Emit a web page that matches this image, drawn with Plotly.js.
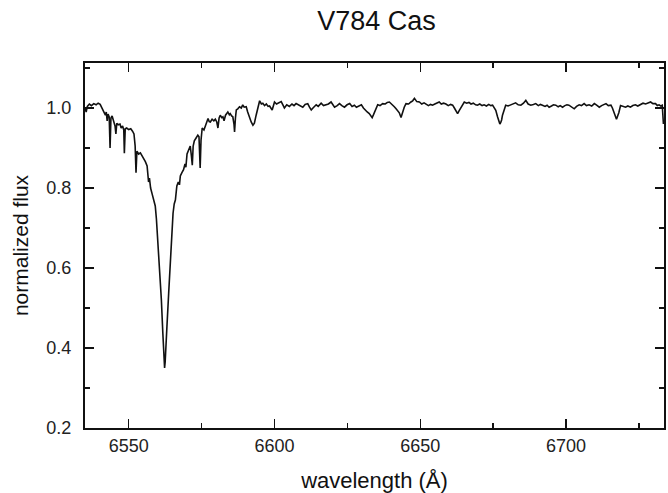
<!DOCTYPE html>
<html>
<head>
<meta charset="utf-8">
<script src="https://cdn.plot.ly/plotly-3.0.1.min.js"></script>
<style>html,body{margin:0;padding:0;background:#fff;}#chart{width:668px;height:493px;}</style>
</head>
<body>
<div id="chart"></div>
<script>
var wavelength = [
6535.0,6535.4,6535.8,6536.5,6537.2,6538.0,6538.8,6539.5,6540.2,6540.8,
6541.4,6542.0,6542.3,6542.6,6542.9,6543.3,6543.6,6543.9,6544.3,6544.8,
6545.3,6545.6,6545.9,6546.4,6547.0,6547.4,6547.9,6548.3,6548.5,6548.8,
6549.3,6550.0,6550.7,6551.3,6551.8,6552.2,6552.5,6552.8,6553.4,6554.0,
6554.6,6555.1,6555.7,6556.3,6556.6,6556.8,6557.1,6557.5,6558.0,6558.6,
6559.1,6559.5,6560.0,6560.6,6561.2,6561.7,6562.1,6562.3,6562.5,6562.7,
6563.1,6563.7,6564.3,6564.8,6565.2,6565.6,6566.0,6566.5,6567.0,6567.4,
6567.7,6568.2,6568.8,6569.3,6569.6,6570.0,6570.5,6571.1,6571.5,6571.8,
6572.1,6572.5,6573.1,6573.7,6574.1,6574.5,6574.8,6575.2,6575.8,6576.2,
6576.6,6577.2,6577.6,6578.0,6578.6,6579.2,6579.7,6580.2,6580.6,6581.0,
6581.4,6581.9,6582.3,6582.7,6583.2,6583.6,6584.0,6584.5,6584.8,6585.3,
6585.7,6586.1,6586.3,6586.6,6586.9,6587.4,6588.0,6588.6,6589.1,6589.6,
6590.3,6590.8,6591.4,6592.0,6592.6,6593.1,6593.7,6594.3,6594.9,6595.5,
6596.0,6596.6,6597.2,6597.8,6598.3,6599.2,6600.0,6600.7,6601.4,6602.3,
6603.0,6603.4,6604.2,6605.1,6606.0,6606.7,6607.4,6608.2,6609.0,6609.7,
6610.5,6611.4,6612.0,6612.6,6613.2,6614.3,6615.0,6616.0,6616.8,6617.7,
6618.5,6619.4,6620.0,6620.6,6621.5,6622.3,6623.1,6624.0,6624.9,6625.8,
6626.6,6627.4,6628.1,6629.0,6629.8,6630.5,6631.0,6631.8,6632.5,6633.0,
6633.5,6634.0,6634.3,6634.9,6635.4,6636.2,6637.1,6638.0,6638.7,6639.4,
6640.2,6641.1,6641.7,6642.2,6642.8,6643.4,6643.7,6644.0,6644.5,6645.1,
6646.0,6646.8,6647.4,6648.0,6648.8,6649.7,6650.5,6651.3,6652.0,6652.8,
6653.5,6654.2,6655.0,6655.8,6656.5,6657.2,6658.0,6658.8,6659.6,6660.4,
6661.1,6661.7,6662.2,6662.8,6663.3,6664.0,6664.6,6665.1,6665.9,6666.7,
6667.4,6668.2,6669.0,6669.6,6670.4,6671.2,6671.9,6672.7,6673.5,6674.2,
6674.8,6675.4,6675.9,6676.5,6677.0,6677.3,6677.6,6677.9,6678.2,6678.5,
6678.9,6679.3,6680.1,6681.0,6681.8,6682.7,6683.6,6684.5,6685.4,6686.2,
6687.0,6687.9,6688.8,6689.6,6690.5,6691.2,6691.9,6692.8,6693.5,6694.2,
6695.0,6695.7,6696.5,6697.3,6698.0,6698.8,6699.6,6700.3,6701.0,6701.9,
6702.8,6703.6,6704.5,6705.3,6706.2,6707.0,6707.9,6708.8,6709.7,6710.5,
6711.4,6712.2,6713.0,6713.7,6714.5,6715.4,6715.9,6716.4,6716.9,6717.3,
6717.7,6718.1,6718.7,6719.5,6720.4,6721.2,6722.1,6722.9,6723.8,6724.6,
6725.5,6726.4,6727.3,6728.1,6729.0,6729.8,6730.7,6731.3,6731.9,6732.5,
6733.0,6733.4
];
var flux = [
1.000,0.990,1.004,1.010,1.006,1.011,1.008,1.012,1.009,1.000,
0.995,0.982,0.990,0.968,0.985,0.978,0.900,0.975,0.980,0.970,
0.955,0.935,0.962,0.958,0.960,0.950,0.955,0.945,0.887,0.948,
0.950,0.946,0.948,0.942,0.935,0.905,0.838,0.892,0.885,0.888,
0.880,0.876,0.866,0.855,0.835,0.815,0.825,0.800,0.786,0.770,
0.755,0.722,0.670,0.603,0.520,0.437,0.378,0.350,0.365,0.387,
0.453,0.537,0.620,0.687,0.737,0.760,0.770,0.805,0.815,0.808,
0.830,0.838,0.846,0.860,0.852,0.885,0.895,0.905,0.880,0.857,
0.905,0.918,0.925,0.932,0.928,0.850,0.920,0.950,0.945,0.955,
0.960,0.974,0.966,0.965,0.972,0.968,0.972,0.965,0.950,0.975,
0.982,0.976,0.978,0.968,0.982,0.986,0.990,0.983,0.986,0.980,
0.978,0.960,0.940,0.975,0.995,0.998,1.003,1.000,1.008,1.002,
1.003,0.990,0.974,0.965,0.957,0.962,0.982,1.005,1.018,1.010,
1.012,1.006,1.010,1.004,1.005,0.995,1.015,1.010,1.013,1.016,
1.006,1.000,1.008,1.004,1.010,1.006,1.011,1.008,1.004,1.002,
1.009,1.011,1.002,0.995,1.000,1.008,1.004,1.012,1.006,1.008,
1.010,1.015,1.008,1.002,1.006,1.011,1.006,1.002,1.008,1.011,
1.004,1.007,1.002,1.006,1.008,1.000,0.995,0.990,0.986,0.982,
0.976,0.984,0.990,1.000,1.008,1.006,1.011,1.010,1.014,1.015,
1.008,1.003,0.998,0.994,0.988,0.976,0.985,0.990,1.002,1.011,
1.010,1.015,1.018,1.024,1.016,1.015,1.010,1.013,1.010,1.006,
1.009,1.007,1.010,1.013,1.015,1.010,1.012,1.010,1.006,1.009,
1.007,1.000,0.994,0.986,0.993,1.003,1.010,1.015,1.012,1.014,
1.010,1.012,1.008,1.007,1.010,1.006,1.008,1.005,1.009,1.006,
1.007,1.000,0.994,0.978,0.966,0.960,0.964,0.970,0.982,0.990,
1.000,1.007,1.005,1.008,1.010,1.013,1.008,1.007,1.012,1.019,
1.010,1.007,1.009,1.011,1.006,1.009,1.007,1.004,1.007,1.002,
1.005,1.008,1.007,1.003,1.006,1.002,1.006,1.008,1.007,1.003,
0.998,1.004,1.008,1.006,1.011,1.006,1.008,1.005,1.011,1.007,
1.002,1.006,1.009,1.011,1.006,1.007,1.000,0.990,0.978,0.972,
0.980,0.988,1.006,1.004,1.002,1.005,1.002,1.006,1.008,1.005,
1.008,1.012,1.010,1.013,1.015,1.011,1.011,1.006,1.008,1.005,
1.007,0.960
];
var xTickVals = [6550, 6600, 6650, 6700];
var yTickVals = [0.2, 0.4, 0.6, 0.8, 1.0];
var yTickText = ['0.2', '0.4', '0.6', '0.8', '1.0'];
var titleText = "V784 Cas";
var xTitle = "wavelength (Å)";
var yTitle = "normalized flux";

var font = "Arial, 'Liberation Sans', Helvetica, sans-serif";
var trace = {
  x: wavelength, y: flux, type: 'scatter', mode: 'lines',
  line: {color: '#111', width: 1.6}, hoverinfo: 'skip'
};
var layout = {
  width: 668, height: 493,
  margin: {l: 85, r: 4, t: 63, b: 65},
  paper_bgcolor: '#fff', plot_bgcolor: '#fff',
  showlegend: false,
  title: {text: titleText, x: 0.5636, xanchor: 'center', y: 0.959, yanchor: 'middle',
          font: {family: font, size: 27, color: '#111'}},
  xaxis: {
    range: [6535, 6733.6], tickvals: xTickVals, ticktext: xTickVals.map(String),
    ticks: 'inside', ticklen: 9, tickwidth: 1.5, tickcolor: '#111',
    minor: {dtick: 25, tick0: 6525, ticks: 'inside', ticklen: 5, tickwidth: 1.5, tickcolor: '#111'},
    showline: true, linecolor: '#111', linewidth: 2, mirror: 'ticks',
    showgrid: false, zeroline: false,
    tickfont: {family: font, size: 18, color: '#222'},
    title: {text: xTitle, font: {family: font, size: 22, color: '#111'}, standoff: 22}
  },
  yaxis: {
    range: [0.2, 1.1125], tickvals: yTickVals, ticktext: yTickText,
    ticks: 'inside', ticklen: 9, tickwidth: 1.5, tickcolor: '#111',
    minor: {dtick: 0.1, tick0: 0.1, ticks: 'inside', ticklen: 5, tickwidth: 1.5, tickcolor: '#111'},
    showline: true, linecolor: '#111', linewidth: 2, mirror: 'ticks',
    showgrid: false, zeroline: false, ticklabelstandoff: 8,
    tickfont: {family: font, size: 18, color: '#222'},
    title: {text: yTitle, font: {family: font, size: 21, color: '#111'}, standoff: 12}
  }
};
Plotly.newPlot('chart', [trace], layout, {displayModeBar: false, staticPlot: true});
</script>
</body>
</html>
